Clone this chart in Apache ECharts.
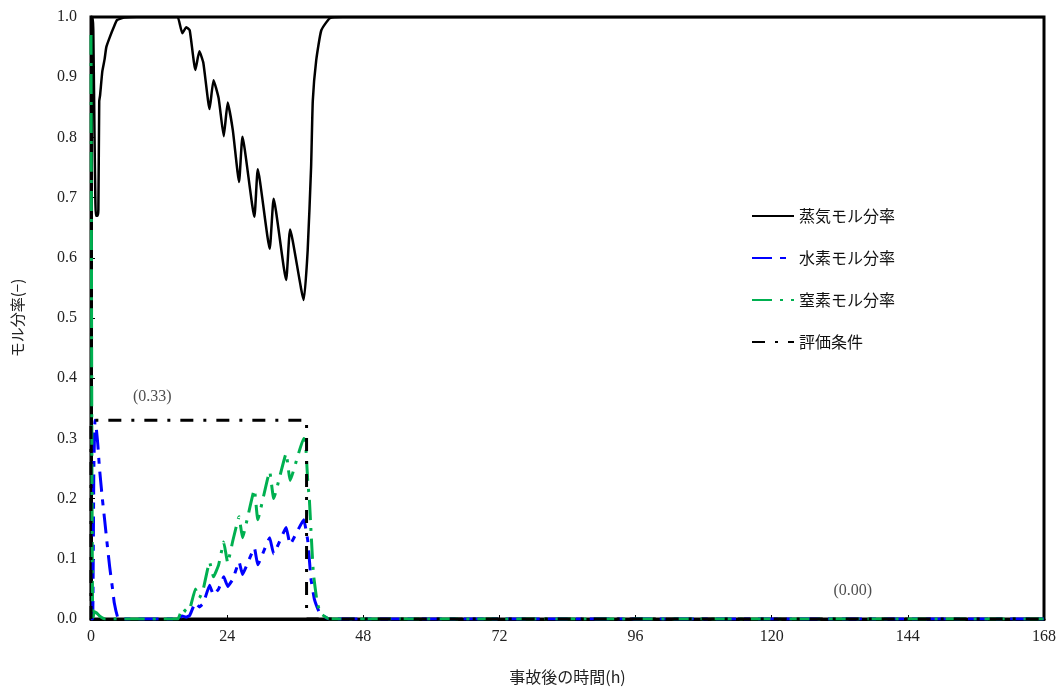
<!DOCTYPE html>
<html><head><meta charset="utf-8">
<script src="https://cdn.jsdelivr.net/npm/echarts@6/dist/echarts.min.js"></script>
<style>html,body{margin:0;padding:0;background:#fff}#c{width:1061px;height:691px}</style>
</head><body><div id="c"></div>
<script>
const seriesNames = ['蒸気モル分率', '水素モル分率', '窒素モル分率', '評価条件'];
const xAxisName = '事故後の時間(h)';
const yAxisName = 'モル分率(−)';
const steam = [[0,0.03],[0.1,0.99],[0.25,1.0],[0.4,0.98],[0.85,0.67],[1.15,0.67],[1.3,0.68],[1.45,0.86],[1.6,0.87],[2.0,0.91],[2.4,0.93],[2.7,0.95],[3.25,0.965],[4.1,0.985],[4.6,0.995],[5.9,0.999],[8,1.0],[15.0,1.0],[15.3,1.0],[16.1,0.973],[16.8,0.983],[17.4,0.978],[18.4,0.912],[19.1,0.943],[19.8,0.924],[20.9,0.847],[21.6,0.895],[22.5,0.865],[23.4,0.802],[24.1,0.858],[25.0,0.812],[26.1,0.726],[26.7,0.801],[28.8,0.668],[29.4,0.747],[31.5,0.615],[32.2,0.698],[34.4,0.563],[35.1,0.647],[37.5,0.530],[38.2,0.613],[38.8,0.751],[39.1,0.861],[39.7,0.928],[40.6,0.978],[42.1,0.998],[44.4,1.0],[168,1.0]];
const hydrogen = [[0,0],[0.3,0.0],[0.5,0.25],[0.7,0.33],[0.9,0.32],[1.2,0.29],[1.5,0.25],[2.0,0.2],[2.4,0.165],[2.9,0.12],[3.3,0.086],[3.8,0.05],[4.1,0.027],[4.7,0.003],[5.5,0],[15.3,0],[16.1,0.005],[16.8,0.003],[17.4,0.006],[18.4,0.027],[19.1,0.02],[19.8,0.026],[20.9,0.056],[21.6,0.04],[22.5,0.05],[23.4,0.07],[24.1,0.054],[25.0,0.066],[26.1,0.095],[26.7,0.074],[28.8,0.118],[29.4,0.09],[31.5,0.135],[32.2,0.108],[34.4,0.152],[35.1,0.124],[37.5,0.165],[38.2,0.131],[38.5,0.098],[38.8,0.065],[39.4,0.032],[40.3,0.01],[42,0],[168,0]];
const nitrogen = [[0,0.97],[0.15,0.3],[0.3,0.0],[0.6,0.012],[1.0,0.01],[1.5,0.005],[2.5,0],[15.3,0],[16.1,0.018],[16.8,0.012],[17.4,0.016],[18.4,0.05],[19.1,0.035],[19.8,0.05],[20.9,0.095],[21.6,0.07],[22.5,0.09],[23.4,0.128],[24.1,0.093],[25.0,0.13],[26.1,0.17],[26.7,0.135],[28.8,0.215],[29.4,0.165],[31.5,0.245],[32.2,0.2],[34.4,0.275],[35.1,0.23],[37.5,0.3],[37.8,0.297],[38.2,0.23],[38.5,0.198],[38.8,0.143],[39.2,0.076],[39.8,0.032],[40.4,0.01],[42,0],[168,0]];
const criterion = [[0,0],[0,0.33],[38,0.33],[38,0],[168,0]];
const annotations = [{value:[10.8,0.369], text:'(0.33)'},{value:[134.3,0.0465], text:'(0.00)'}];

const serifFont = '"Liberation Serif","Noto Sans CJK JP",serif';
const jpFont = '"Noto Sans CJK JP",sans-serif';
const chart = echarts.init(document.getElementById('c'));
chart.setOption({
  animation:false,
  backgroundColor:'#fff',
  grid:{left:91,right:17,top:17,bottom:72,show:true,borderColor:'#000',borderWidth:3,backgroundColor:'transparent'},
  legend:{
    data:seriesNames, orient:'vertical', left:746, top:203, itemWidth:42, itemHeight:14, itemGap:26,
    itemStyle:{opacity:0},
    textStyle:{fontFamily:jpFont,fontSize:16,color:'#111'}
  },
  xAxis:{
    type:'value', min:0, max:168, interval:24,
    name:xAxisName, nameLocation:'middle', nameGap:50,
    nameTextStyle:{fontFamily:jpFont,fontSize:16,color:'#222'},
    axisLine:{show:true,onZero:false,lineStyle:{color:'#000',width:3}},
    axisTick:{show:true,inside:true,length:4,lineStyle:{color:'#000'}},
    axisLabel:{fontFamily:serifFont,fontSize:16,color:'#222',margin:10},
    splitLine:{show:false}
  },
  yAxis:{
    type:'value', min:0, max:1, interval:0.1,
    name:yAxisName, nameLocation:'middle', nameGap:66, nameRotate:90,
    nameTextStyle:{fontFamily:jpFont,fontSize:15,color:'#222'},
    axisLine:{show:true,lineStyle:{color:'#000',width:3}},
    axisTick:{show:true,inside:true,length:4,lineStyle:{color:'#000'}},
    axisLabel:{fontFamily:serifFont,fontSize:16,color:'#222',margin:14,formatter:v=>v.toFixed(1)},
    splitLine:{show:false}
  },
  series:[
    {name:seriesNames[0],type:'line',data:steam,symbol:'none',smooth:0.15,lineStyle:{color:'#000',width:2.5},itemStyle:{color:'#000'}},
    {name:seriesNames[1],type:'line',data:hydrogen,symbol:'none',smooth:0.1,lineStyle:{color:'#0000ff',width:3,type:[20,8,6,8]},itemStyle:{color:'#0000ff'}},
    {name:seriesNames[2],type:'line',data:nitrogen,symbol:'none',smooth:0.1,lineStyle:{color:'#00b050',width:3,type:[20,8,3,8]},itemStyle:{color:'#00b050'}},
    {name:seriesNames[3],type:'line',data:criterion,symbol:'none',lineStyle:{color:'#000',width:3,type:[13,10,3,10]},itemStyle:{color:'#000'}},
    {name:'annot',type:'scatter',data:annotations.map(a=>({value:a.value,label:{formatter:a.text}})),symbolSize:0,
     label:{show:true,position:'inside',fontFamily:serifFont,fontSize:16,color:'#222'},silent:true}
  ]
});
</script></body></html>
